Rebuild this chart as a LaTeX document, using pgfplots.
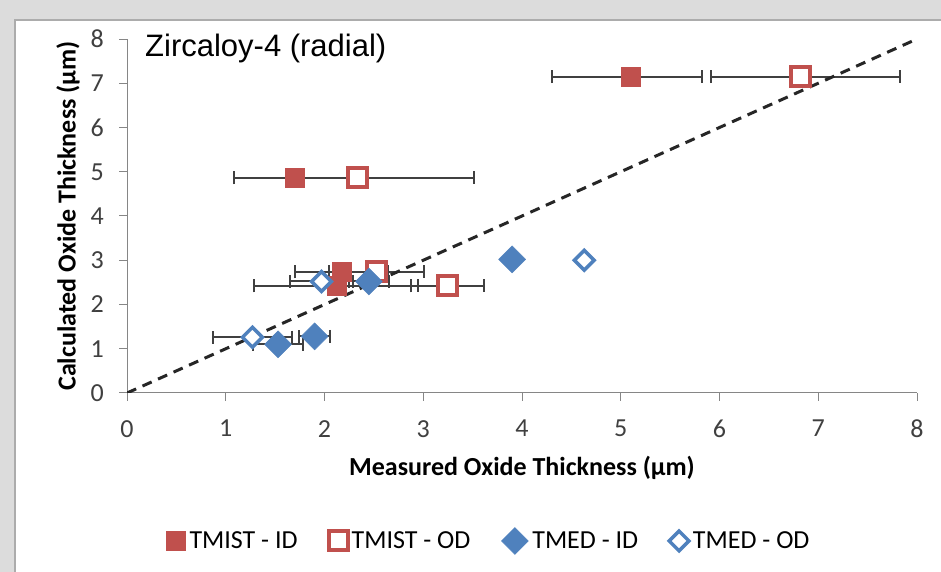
\documentclass[border=0pt]{standalone}
\usepackage{fontspec}
\setmainfont{Carlito}
\newfontfamily\arialfont{Liberation Sans}
\usepackage{pgfplots}
\pgfplotsset{compat=1.18}
\definecolor{tred}{HTML}{C0504D}
\definecolor{tblue}{HTML}{4F81BD}
\definecolor{axgray}{HTML}{868686}
\definecolor{ebar}{HTML}{404040}
\definecolor{bggray}{HTML}{DCDCDC}

\pgfplotstableread{
x    y    em   ep
5.10 7.15 0.80 0.72
1.70 4.87 0.62 0.61
2.17 2.74 0.47 0.47
2.12 2.42 0.83 0.83
}\tmistid
\pgfplotstableread{
x    y    em   ep
6.82 7.15 0.91 1.01
2.33 4.87 1.25 1.18
2.53 2.74 0.48 0.48
3.25 2.42 0.37 0.37
}\tmistod
\pgfplotstableread{
x    y    em   ep
3.90 3.02 0.00 0.00
2.45 2.52 0.20 0.20
1.53 1.10 0.25 0.25
1.90 1.28 0.16 0.16
}\tmedid
\pgfplotstableread{
x    y    em   ep
4.63 3.00 0.005 0.005
1.97 2.52 0.32 0.32
1.27 1.26 0.40 0.40
}\tmedod

\pgfplotsset{
  myerr/.style={error bars/.cd, x dir=both, x explicit,
    error bar style={ebar, line width=2pt, solid},
    error mark options={ebar, line width=2pt, mark size=6.5pt, rotate=90, solid}},
}

\begin{document}
\begin{tikzpicture}[x=1pt,y=1pt]
\fill[bggray] (0,0) rectangle (941,572);
\useasboundingbox (0,0) rectangle (941,572);
\fill[white] (15,0) rectangle (941,552);
\draw[gray!65, line width=1.5pt] (15,0) -- (15,552) -- (941,552);
\begin{axis}[
  at={(127pt,179pt)}, anchor=south west, scale only axis,
  width=790pt, height=354pt,
  xmin=0, xmax=8, ymin=0, ymax=8,
  xtick={0,...,8}, ytick={0,...,8},
  axis x line*=bottom, axis y line*=left,
  axis line style={-, axgray, line width=1pt},
  tick align=outside, major tick length=8pt,
  tick style={axgray, line width=1pt},
  /pgf/number format/assume math mode=true,
  ticklabel style={font=\fontsize{26}{30}\selectfont, text=black!75},
  xticklabel style={inner sep=0pt, yshift=-19pt},
  yticklabel style={inner sep=0pt, xshift=-15pt},
  xlabel={\bfseries Measured Oxide Thickness (µm)},
  ylabel={\bfseries Calculated Oxide Thickness (µm)},
  xlabel style={at={(axis description cs:0.5,-0.2119)}, anchor=center, font=\fontsize{26}{30}\selectfont},
  ylabel style={at={(axis description cs:-0.0747,0.5)}, anchor=center, font=\fontsize{26}{30}\selectfont},
  legend style={at={(axis description cs:0.4595,-0.418)}, anchor=center, draw=none, fill=none,
    legend columns=4, font=\fontsize{26}{30}\selectfont,
    /tikz/every even column/.append style={column sep=27pt},
    nodes={inner sep=4pt}},
]
\addplot[only marks, mark=square*, mark size=9.5pt, mark options={draw=tred, fill=tred, line width=0.5pt}, myerr]
  table[x=x, y=y, x error plus=ep, x error minus=em] {\tmistid};
\addlegendentry{TMIST - ID}
\addplot[only marks, mark=square*, mark size=9.5pt, mark options={draw=tred, fill=white, line width=4pt}, myerr]
  table[x=x, y=y, x error plus=ep, x error minus=em] {\tmistod};
\addlegendentry{TMIST - OD}
\addplot[only marks, mark=square*, mark size=9.5pt, mark options={draw=tblue, fill=tblue, line width=0.5pt, rotate=45}, myerr]
  table[x=x, y=y, x error plus=ep, x error minus=em] {\tmedid};
\addlegendentry{TMED - ID}
\addplot[only marks, mark=square*, mark size=7pt, mark options={draw=tblue, fill=white, line width=3.5pt, rotate=45}, myerr]
  table[x=x, y=y, x error plus=ep, x error minus=em] {\tmedod};
\addlegendentry{TMED - OD}
\addplot[black!85, line width=3pt, dash pattern=on 10pt off 7pt, forget plot] coordinates {(0,0) (8,8)};
\end{axis}
\node[anchor=base west, font=\arialfont\fontsize{31}{36}\selectfont, inner sep=0pt] at (145,515) {Zircaloy-4 (radial)};
\end{tikzpicture}
\end{document}
